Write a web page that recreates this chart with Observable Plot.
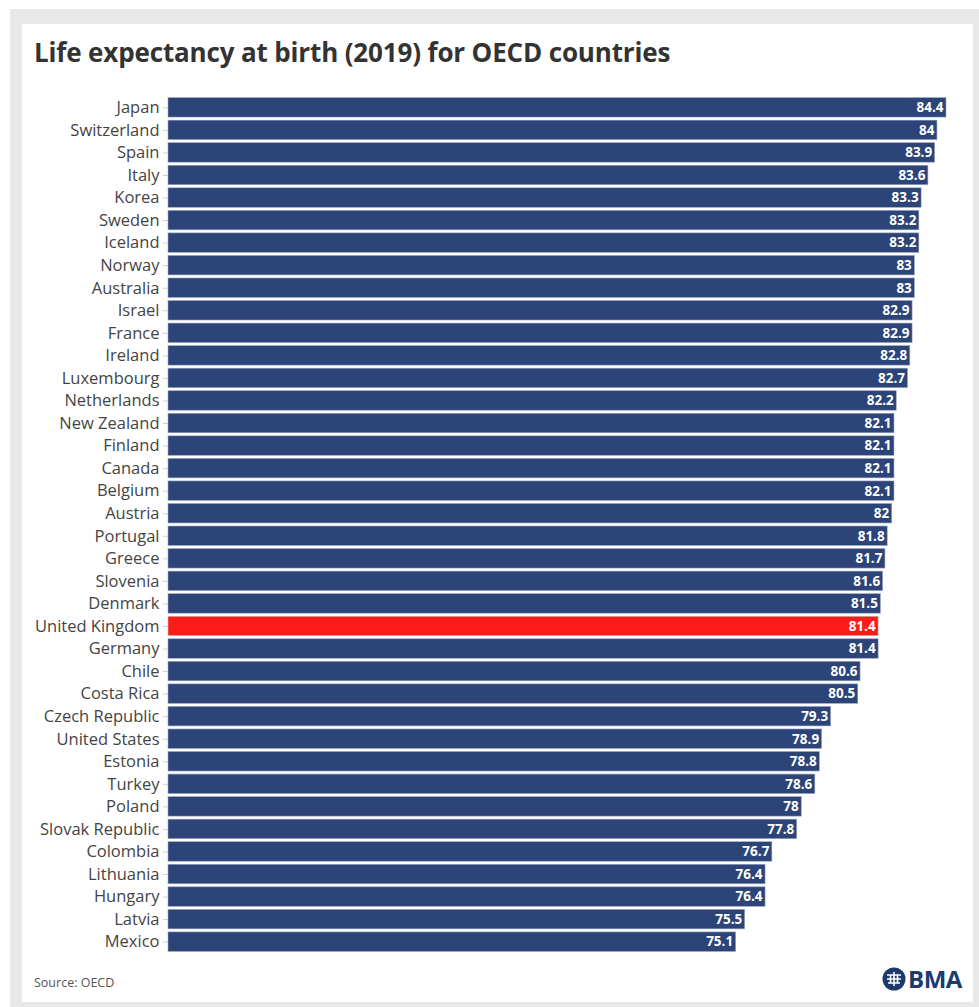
<!DOCTYPE html>
<html>
<head>
<meta charset="utf-8">
<script src="https://cdn.jsdelivr.net/npm/d3@7"></script>
<script src="https://cdn.jsdelivr.net/npm/@observablehq/plot@0.6"></script>
<style>
  html, body { margin: 0; padding: 0; background: #fff; width: 979px; height: 1007px; overflow: hidden; }
  body { position: relative; font-family: "Open Sans", "Noto Sans", sans-serif; }
  #frame { position: absolute; left: 10px; top: 9px; width: 980px; height: 1010px; background: #e8e8e8; }
  #panel { position: absolute; left: 22px; top: 24px; width: 951px; height: 978px; background: #fff; }
  #title { position: absolute; left: 34px; top: 34px; font-size: 26px; font-weight: 700; color: #333; white-space: nowrap; letter-spacing: -0.15px; }
  #chart { position: absolute; left: 22px; top: 70px; }
  #source { position: absolute; left: 34px; top: 974px; font-size: 12.5px; color: #555; }
  #logo { position: absolute; left: 882px; top: 962px; display: flex; align-items: center; }
  #logo span { font-size: 24px; font-weight: 700; color: #1c3a6c; margin-left: 2px; letter-spacing: -0.5px; font-family: "Open Sans", sans-serif; }
</style>
</head>
<body>
<div id="frame"></div>
<div id="panel"></div>
<div id="title">Life expectancy at birth (2019) for OECD countries</div>
<div id="chart"></div>
<div id="source">Source: OECD</div>
<div id="logo">
  <svg width="24" height="24" viewBox="0 0 24 24">
    <circle cx="12" cy="12" r="11.5" fill="#1c3a6c"/>
    <path d="M5 8 H19 M5 12 H19 M6 16 H18 M12 5 V19 M8.5 8 V16 M15.5 8 V16" stroke="#fff" stroke-width="1.6" fill="none"/>
  </svg>
  <span>BMA</span>
</div>
<script>
const countries = ["Japan","Switzerland","Spain","Italy","Korea","Sweden","Iceland","Norway","Australia","Israel","France","Ireland","Luxembourg","Netherlands","New Zealand","Finland","Canada","Belgium","Austria","Portugal","Greece","Slovenia","Denmark","United Kingdom","Germany","Chile","Costa Rica","Czech Republic","United States","Estonia","Turkey","Poland","Slovak Republic","Colombia","Lithuania","Hungary","Latvia","Mexico"];
const values = [84.4,84,83.9,83.6,83.3,83.2,83.2,83,83,82.9,82.9,82.8,82.7,82.2,82.1,82.1,82.1,82.1,82,81.8,81.7,81.6,81.5,81.4,81.4,80.6,80.5,79.3,78.9,78.8,78.6,78,77.8,76.7,76.4,76.4,75.5,75.1];
const highlighted = ["United Kingdom"];
const axisStart = 50;

const data = countries.map((c, i) => ({country: c, value: values[i], hl: highlighted.includes(c)}));

const chart = Plot.plot({
  width: 951,
  height: 900,
  marginLeft: 146,
  marginRight: 27,
  marginTop: 26,
  marginBottom: 17,
  style: {fontFamily: "'Open Sans', 'Noto Sans', sans-serif", background: "transparent"},
  x: {domain: [axisStart, 84.4], axis: null},
  y: {domain: countries, paddingInner: 0.135, paddingOuter: 0.07, round: false, label: null},
  marks: [
    Plot.barX(data, {x1: axisStart, x2: "value", y: "country", fill: d => d.hl ? "#ff1a1a" : "#2c4478", stroke: d => d.hl ? "#c9c9c9" : "#9aa8c6", strokeWidth: 0.6}),
    Plot.text(data, {x: "value", y: "country", text: d => String(d.value), textAnchor: "end", dx: -3, fill: "#fff", fontWeight: "bold", fontSize: 13.5}),
    Plot.axisY({tickSize: 5, tickPadding: 4, fontSize: 16.5, color: "#444", label: null})
  ]
});
chart.querySelectorAll("[aria-label='y-axis tick'] path, [aria-label='y-axis tick'] line").forEach(e => e.setAttribute("stroke", "#ccc"));
document.getElementById("chart").appendChild(chart);
</script>
</body>
</html>
